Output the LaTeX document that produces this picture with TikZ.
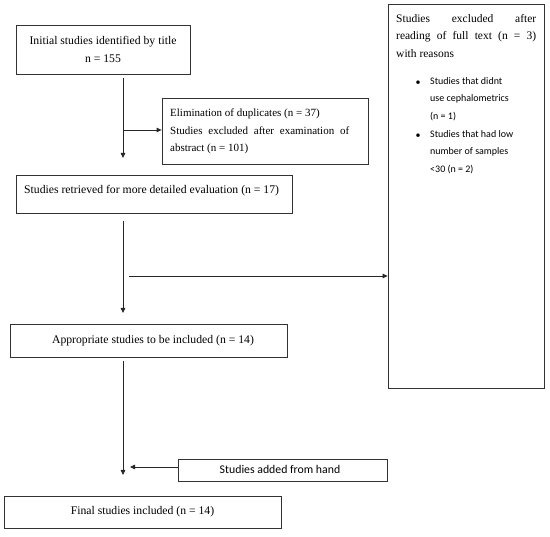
\documentclass[tikz,border=0pt]{standalone}
\usepackage{fontspec}
\setmainfont{Liberation Serif}
\newfontfamily\sansf{Carlito}
\usetikzlibrary{arrows.meta}
\begin{document}
\begin{tikzpicture}[x=1pt,y=-1pt,
  box/.style={draw=black!80, line width=0.8pt, inner sep=0pt, fill=none},
  arr/.style={draw=black!85, line width=0.8pt, -{Triangle[length=5pt,width=4.5pt]}},
  txt/.style={inner sep=0pt, font=\fontsize{11.7}{18}\selectfont},
  stxt/.style={inner sep=0pt, font=\sansf\fontsize{10}{17.6}\selectfont},
]
\useasboundingbox[fill=white] (0,0) rectangle (550,537);
% boxes
\node[box, minimum width=174, minimum height=49] (b1) at (103,49.5) {};
\node[txt, align=center] (t1) at (103,49) {Initial studies identified by title\\n = 155};
\node[box, minimum width=206, minimum height=66] (b2) at (265,131) {};
\node[txt, font=\fontsize{11}{17.5}\selectfont, text width=179, align=justify, anchor=west] (t2) at (170,131.5) {Elimination of duplicates (n = 37)\newline Studies excluded after examination of\linebreak abstract (n = 101)};
\node[box, minimum width=276, minimum height=38] (b3) at (154,194) {};
\node[txt, anchor=west] (t3) at (24,190.5) {Studies retrieved for more detailed evaluation (n = 17)};
\node[box, minimum width=156, minimum height=384] (b7) at (466,196) {};
\node[txt, font=\fontsize{11.5}{17.6}\selectfont, text width=140, align=justify, anchor=north west] (t7) at (396,14) {Studies excluded after\linebreak reading of full text (n = 3)\linebreak with reasons};
\node[stxt] (d1) at (418,83) {\textbullet};
\node[stxt, align=left, anchor=north west] (l1) at (430,77) {Studies that didnt\\use cephalometrics\\(n = 1)};
\node[stxt] (d2) at (418,136) {\textbullet};
\node[stxt, align=left, anchor=north west] (l2) at (430,130) {Studies that had low\\number of samples\\<30 (n = 2)};
\node[box, minimum width=277, minimum height=33] (b4) at (148.5,340.5) {};
\node[txt] (t4) at (153,341) {Appropriate studies to be included (n = 14)};
\node[box, minimum width=209, minimum height=22] (b5) at (282.5,470) {};
\node[stxt, font=\sansf\fontsize{11.8}{13}\selectfont] (t5) at (280,469) {Studies added from hand};
\node[box, minimum width=277, minimum height=32] (b6) at (142.5,512) {};
\node[txt] (t6) at (142.5,512) {Final studies included (n = 14)};
% connector points
\coordinate (p1) at (123,78);
\coordinate (p2) at (123,158);
\coordinate (p3) at (123,130);
\coordinate (p4) at (123,221);
\coordinate (p5) at (123,313);
\coordinate (p6) at (129,276);
\coordinate (p7) at (123,361);
\coordinate (p8) at (123,475);
\coordinate (p9) at (130,467);
% connectors
\draw[arr] (p1) -- (p2);
\draw[arr] (p3) -- (b2.west |- p3);
\draw[arr] (p4) -- (p5);
\draw[arr] (p6) -- (b7.west |- p6);
\draw[arr] (p7) -- (p8);
\draw[arr] (b5.west |- p9) -- (p9);
\end{tikzpicture}
\end{document}
